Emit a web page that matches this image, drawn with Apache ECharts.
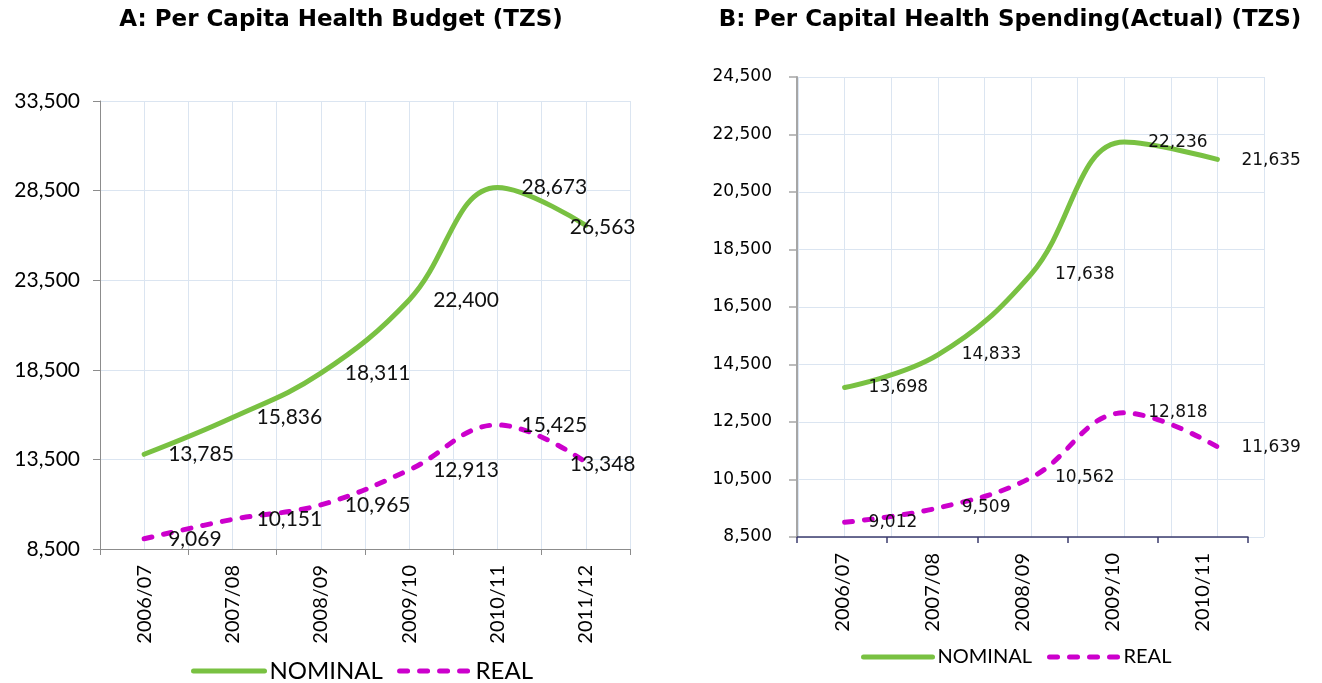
<!DOCTYPE html>
<html><head><meta charset="utf-8">
<script src="https://cdn.jsdelivr.net/npm/echarts@6/dist/echarts.min.js"></script>
<style>html,body{margin:0;padding:0;background:#fff}#c{width:1322px;height:683px}</style>
</head><body><div id="c"></div>
<script>
// ---- data ----
const titleA = 'A: Per Capita Health Budget (TZS)';
const titleB = 'B: Per Capital Health Spending(Actual) (TZS)';
const seriesNames = ['NOMINAL', 'REAL'];
const yearsA = ['2006/07', '2007/08', '2008/09', '2009/10', '2010/11', '2011/12'];
const nominalA = [13785, 15836, 18311, 22400, 28673, 26563];
const realA = [9069, 10151, 10965, 12913, 15425, 13348];
const yTicksA = [8500, 13500, 18500, 23500, 28500, 33500];
const yearsB = ['2006/07', '2007/08', '2008/09', '2009/10', '2010/11'];
const nominalB = [13698, 14833, 17638, 22236, 21635];
const realB = [9012, 9509, 10562, 12818, 11639];
const yTicksB = [8500, 10500, 12500, 14500, 16500, 18500, 20500, 22500, 24500];

// ---- styling ----
const GREEN = '#79c142', MAGENTA = '#cc00cc', GRIDC = '#dbe5f1';
const fontA = 'Lato', fontB = 'DejaVu Sans';
const fmt = v => Number(v).toLocaleString('en-US');

function lineSeries(name, values, color, dashed, xi, yi, fontFamily, fontSize, lastOffset) {
  return {
    name: name, type: 'line', xAxisIndex: xi, yAxisIndex: yi,
    smooth: 0.4, symbol: 'circle', symbolSize: 0, showSymbol: true,
    itemStyle: { color: color },
    lineStyle: { color: color, width: 5, type: dashed ? [8, 12] : 'solid', cap: 'round' },
    label: { show: true, position: 'right', distance: 24, color: '#111',
      fontFamily: fontFamily, fontSize: fontSize, formatter: p => fmt(p.value) },
    emphasis: { disabled: true },
    data: values.map((v, i) => (i === values.length - 1 && lastOffset)
      ? { value: v, label: { offset: lastOffset } } : v),
    z: 3
  };
}

const chart = echarts.init(document.getElementById('c'), null, { renderer: 'canvas' });
chart.setOption({
  animation: false,
  title: [
    { text: titleA, left: 341, top: 9, textAlign: 'center', padding: 0,
      textStyle: { fontFamily: fontB, fontWeight: 'bold', fontSize: 23, color: '#000' } },
    { text: titleB, left: 1010, top: 9, textAlign: 'center', padding: 0,
      textStyle: { fontFamily: fontB, fontWeight: 'bold', fontSize: 23, color: '#000' } }
  ],
  legend: [
    { data: seriesNames.map(n => n + ' '), left: 191, top: 659, padding: 0, itemWidth: 71, itemHeight: 14, itemGap: 8,
      itemStyle: { opacity: 0 }, lineStyle: { width: 5, cap: 'round' }, selectedMode: false,
      textStyle: { fontFamily: fontA, fontSize: 24, color: '#000' } },
    { data: seriesNames, left: 861, top: 647, padding: 0, itemWidth: 69, itemHeight: 14, itemGap: 15,
      itemStyle: { opacity: 0 }, lineStyle: { width: 5, cap: 'round' }, selectedMode: false,
      textStyle: { fontFamily: fontA, fontSize: 20, color: '#000' } }
  ],
  grid: [
    { left: 100, top: 101, width: 530, height: 448 },
    { left: 797, top: 77, width: 451, height: 460 },
    { left: 798, top: 77, width: 466, height: 460 }
  ],
  xAxis: [
    { type: 'category', gridIndex: 0, data: yearsA, boundaryGap: true,
      axisLine: { lineStyle: { color: '#8c8c8c', width: 1 } },
      axisTick: { show: true, length: 6, lineStyle: { color: '#8c8c8c' } },
      axisLabel: { rotate: 90, margin: 16, fontFamily: fontA, fontSize: 20, color: '#000' },
      splitLine: { show: false } },
    { type: 'value', gridIndex: 0, min: 0, max: 12, interval: 1, show: true,
      axisLine: { show: false }, axisTick: { show: false }, axisLabel: { show: false },
      splitLine: { show: true, lineStyle: { color: GRIDC, width: 1 } } },
    { type: 'category', gridIndex: 1, data: yearsB, boundaryGap: true,
      axisLine: { lineStyle: { color: '#3d3d6e', width: 1.5 } },
      axisTick: { show: true, length: 6, lineStyle: { color: '#3d3d6e', width: 1.5 } },
      axisLabel: { rotate: 90, margin: 16, fontFamily: fontA, fontSize: 20, color: '#000' },
      splitLine: { show: false }, z: 5 },
    { type: 'category', gridIndex: 2, data: yearsB, boundaryGap: true, show: false },
    { type: 'value', gridIndex: 2, min: 0, max: 10, interval: 1, show: true,
      axisLine: { show: false }, axisTick: { show: false }, axisLabel: { show: false },
      splitLine: { show: true, lineStyle: { color: GRIDC, width: 1 } } }
  ],
  yAxis: [
    { type: 'value', gridIndex: 0, min: yTicksA[0], max: yTicksA[yTicksA.length - 1],
      axisLine: { show: true, lineStyle: { color: '#8c8c8c', width: 1 } },
      axisTick: { show: true, length: 7, customValues: yTicksA, lineStyle: { color: '#8c8c8c' } },
      axisLabel: { customValues: yTicksA, margin: 20, fontFamily: fontA, fontSize: 21, color: '#000', formatter: fmt },
      splitLine: { show: true, lineStyle: { color: GRIDC, width: 1 } } },
    { type: 'value', gridIndex: 1, min: yTicksB[0], max: yTicksB[yTicksB.length - 1],
      axisLine: { show: true, lineStyle: { color: '#a6a6a6', width: 2 } },
      axisTick: { show: true, length: 8, customValues: yTicksB, lineStyle: { color: '#a6a6a6', width: 1.5 } },
      axisLabel: { customValues: yTicksB, margin: 25, fontFamily: fontB, fontSize: 17, color: '#000', formatter: fmt },
      splitLine: { show: false }, z: 5 },
    { type: 'value', gridIndex: 2, min: yTicksB[0], max: yTicksB[yTicksB.length - 1],
      axisLine: { show: false }, axisTick: { show: false, customValues: yTicksB },
      axisLabel: { show: false, customValues: yTicksB },
      splitLine: { show: true, lineStyle: { color: GRIDC, width: 1 } } }
  ],
  series: [
    lineSeries(seriesNames[0] + ' ', nominalA, GREEN, false, 0, 0, fontA, 21, [-40, 2]),
    lineSeries(seriesNames[1] + ' ', realA, MAGENTA, true, 0, 0, fontA, 21, [-40, 2]),
    lineSeries(seriesNames[0], nominalB, GREEN, false, 3, 2, fontB, 17, [0, 1]),
    lineSeries(seriesNames[1], realB, MAGENTA, true, 3, 2, fontB, 17, [0, 1])
  ]
});
</script>
</body></html>
